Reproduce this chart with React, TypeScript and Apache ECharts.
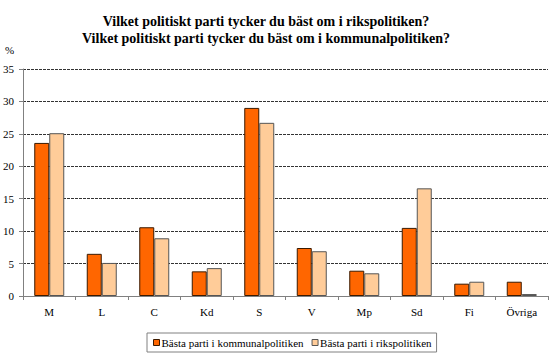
import React, { useEffect, useRef } from "react";
import * as echarts from "echarts";

const categories = ["M", "L", "C", "Kd", "S", "V", "Mp", "Sd", "Fi", "Övriga"];
const kommunal = [23.6, 6.5, 10.6, 3.8, 29.0, 7.4, 3.9, 10.5, 1.9, 2.2];
const riks = [25.1, 5.1, 8.9, 4.3, 26.7, 6.9, 3.5, 16.6, 2.2, 0.3];
const titleLines = [
  "Vilket politiskt parti tycker du bäst om i rikspolitiken?",
  "Vilket politiskt parti tycker du bäst om i kommunalpolitiken?",
];
const seriesNames = ["Bästa parti i kommunalpolitiken", "Bästa parti i rikspolitiken"];

const FONT = "Liberation Serif";

export default function App() {
  const ref = useRef<HTMLDivElement>(null);
  useEffect(() => {
    if (!ref.current) return;
    const chart = echarts.init(ref.current, null, { renderer: "svg" });
    chart.setOption({
      animation: false,
      backgroundColor: "#fff",
      textStyle: { fontFamily: FONT },
      title: {
        text: titleLines.join("\n"),
        left: 261,
        textAlign: "center",
        top: 8,
        textStyle: { fontFamily: FONT, fontSize: 14, fontWeight: "bold", color: "#000", lineHeight: 17 },
      },
      graphic: [
        { type: "text", left: 5, top: 44, style: { text: "%", font: `11px ${FONT}`, fill: "#000" } },
      ],
      legend: {
        top: 333,
        left: 147,
        itemWidth: 6,
        itemHeight: 6,
        itemGap: 8,
        borderColor: "#808080",
        borderWidth: 1,
        padding: [4, 5, 4, 6],
        textStyle: { fontFamily: FONT, fontSize: 11, color: "#000", padding: [0, 0, 0, -3] },
        data: [
          { name: seriesNames[0], icon: "rect", itemStyle: { color: "#FF6600", borderColor: "#3a1a00", borderWidth: 1 } },
          { name: seriesNames[1], icon: "rect", itemStyle: { color: "#FFCC99", borderColor: "#555", borderWidth: 1 } },
        ],
      },
      grid: { left: 22, right: 2, top: 69, bottom: 60, containLabel: false },
      xAxis: {
        type: "category",
        data: categories,
        axisLine: { lineStyle: { color: "#808080" } },
        axisTick: { show: true, alignWithLabel: false, length: 4, lineStyle: { color: "#808080" } },
        axisLabel: { fontFamily: FONT, fontSize: 11, color: "#000", margin: 10 },
      },
      yAxis: {
        type: "value",
        min: 0,
        max: 35,
        interval: 5,
        axisLine: { show: true, lineStyle: { color: "#808080" } },
        axisTick: { show: true, length: 4, lineStyle: { color: "#808080" } },
        axisLabel: { fontFamily: FONT, fontSize: 11, color: "#000", margin: 9 },
        splitLine: { show: true, lineStyle: { color: "#333", type: [3, 1], width: 1 } },
      },
      series: [
        {
          name: seriesNames[0],
          type: "bar",
          data: kommunal,
          barWidth: 15,
          barGap: "0%",
          itemStyle: { color: "#FF6600", borderColor: "#3a1a00", borderWidth: 1 },
        },
        {
          name: seriesNames[1],
          type: "bar",
          data: riks,
          barWidth: 15,
          barGap: "0%",
          itemStyle: { color: "#FFCC99", borderColor: "#555", borderWidth: 1 },
        },
      ],
    });
    return () => chart.dispose();
  }, []);
  return <div ref={ref} style={{ width: 550, height: 356, position: "absolute", left: 0, top: 0 }} />;
}
